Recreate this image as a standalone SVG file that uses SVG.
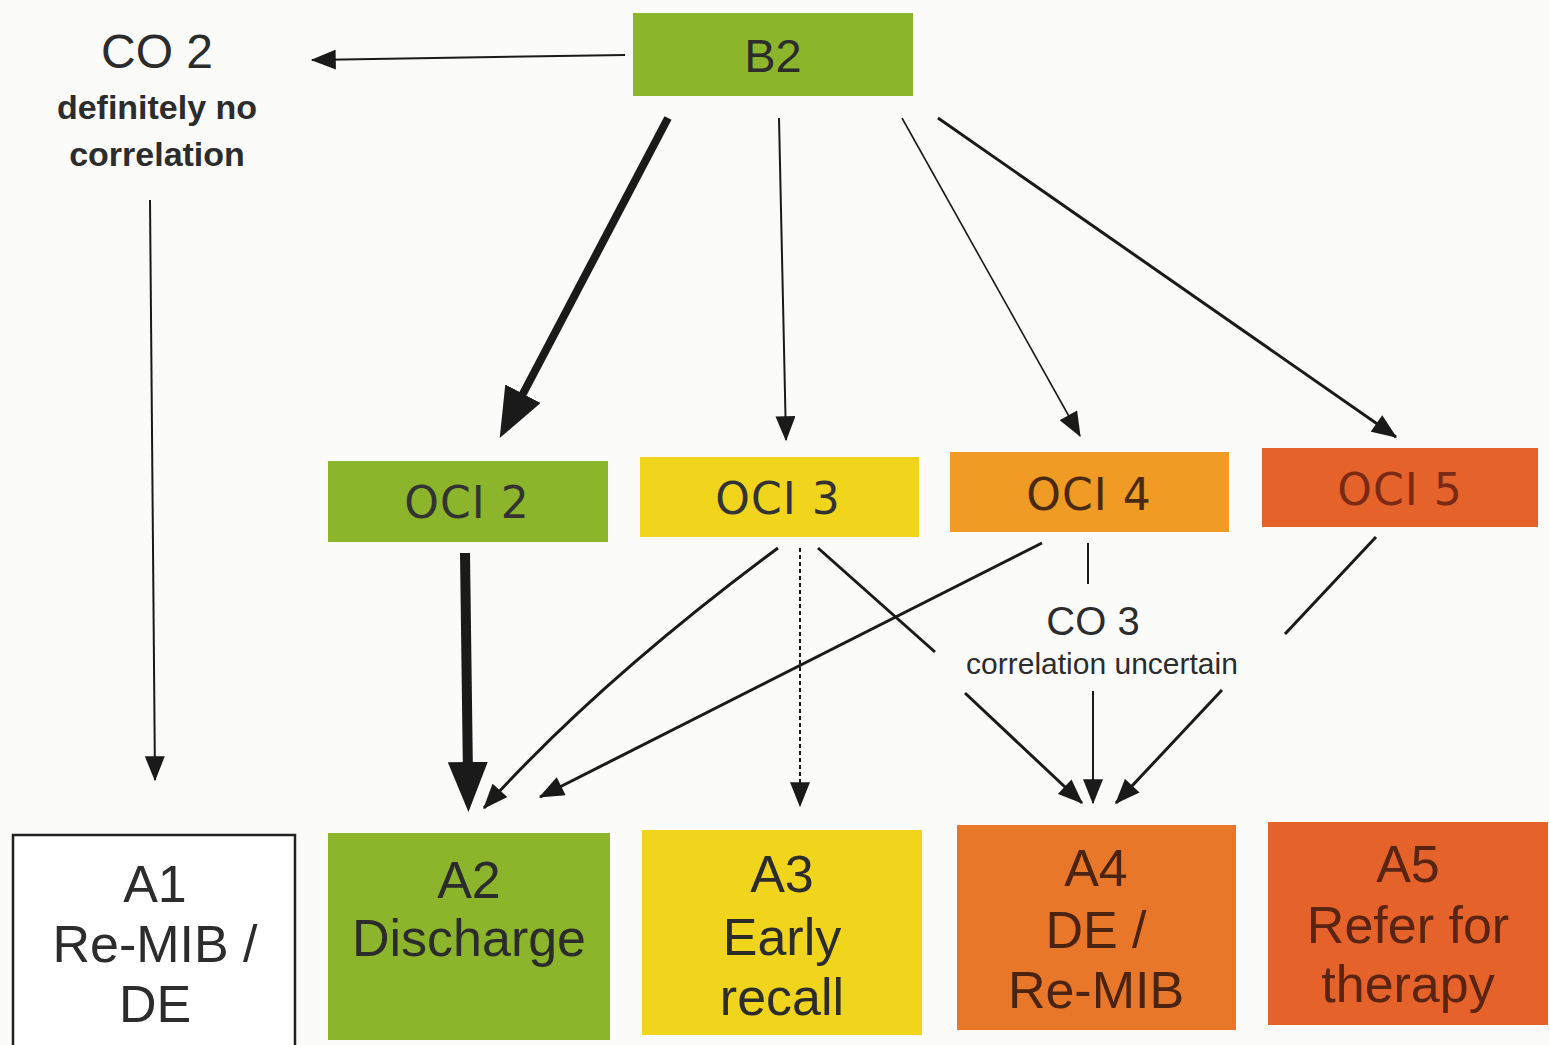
<svg xmlns="http://www.w3.org/2000/svg" width="1549" height="1045" viewBox="0 0 1549 1045">
  <defs>
    <style>
      .lbl { font-family: "Liberation Sans", Arial, sans-serif; fill: #2c2c2c; text-anchor: middle; }
      .oci { font-family: "DejaVu Sans", "Liberation Sans", sans-serif; font-size: 44px; letter-spacing: 1px; fill: #333; text-anchor: middle; }
      .act { font-size: 52px; }
      .box { stroke: none; }
      .green { fill: #8cb52b; }
      .yellow { fill: #f1d41c; }
      .orange { fill: #ef9b24; }
      .red { fill: #e6622b; }
      .red2 { fill: #e8772a; }
      .edge { fill: none; stroke: #1a1a1a; }
      .hair { stroke-width: 1.6; }
      .thin { stroke-width: 2; }
      .mid { stroke-width: 3; }
    </style>
    <!-- standard arrowhead, tip at path end -->
    <marker id="ah" viewBox="0 0 20 16" refX="19" refY="8" markerWidth="26" markerHeight="20" markerUnits="userSpaceOnUse" orient="auto">
      <path d="M0,0 L20,8 L0,16 z" fill="#1a1a1a"/>
    </marker>
    <!-- heavy arrowhead, tip sits 35px beyond path end -->
    <marker id="ahBig" viewBox="0 0 20 16" refX="6" refY="8" markerWidth="50" markerHeight="40" markerUnits="userSpaceOnUse" orient="auto">
      <path d="M0,0 L20,8 L0,16 z" fill="#1a1a1a"/>
    </marker>
  </defs>

  <rect width="1549" height="1045" fill="#fbfbfa"/>

  <!-- connectors -->
  <g id="connectors">
    <line class="edge thin" x1="625" y1="55" x2="312" y2="60" marker-end="url(#ah)"/>
    <line class="edge thin" x1="150" y1="200" x2="155" y2="780" marker-end="url(#ah)"/>
    <line class="edge" style="stroke-width:8" x1="668" y1="118" x2="516" y2="407" marker-end="url(#ahBig)"/>
    <line class="edge thin" x1="779" y1="118" x2="786" y2="440" marker-end="url(#ah)"/>
    <line class="edge hair" x1="902" y1="118" x2="1080" y2="436" marker-end="url(#ah)"/>
    <line class="edge mid" x1="938" y1="118" x2="1396" y2="437" marker-end="url(#ah)"/>

    <line class="edge" style="stroke-width:10" x1="465" y1="553" x2="468" y2="777" marker-end="url(#ahBig)"/>
    <path class="edge mid" d="M778,548 Q600,680 484,808" marker-end="url(#ah)"/>
    <line class="edge mid" x1="1042" y1="543" x2="540" y2="797" marker-end="url(#ah)"/>
    <line class="edge thin" x1="800" y1="548" x2="800" y2="806" stroke-dasharray="4,3" marker-end="url(#ah)"/>
    <line class="edge mid" x1="818" y1="548" x2="935" y2="652"/>
    <line class="edge thin" x1="1088" y1="543" x2="1088" y2="584"/>
    <line class="edge mid" x1="1376" y1="537" x2="1285" y2="634"/>
    <line class="edge mid" x1="965" y1="693" x2="1082" y2="803" marker-end="url(#ah)"/>
    <line class="edge thin" x1="1093" y1="691" x2="1093" y2="803" marker-end="url(#ah)"/>
    <line class="edge mid" x1="1222" y1="690" x2="1116" y2="803" marker-end="url(#ah)"/>
  </g>

  <!-- top node -->
  <g id="B2">
    <rect class="box green" x="633" y="13" width="280" height="83"/>
    <text class="lbl" x="773" y="72" font-size="47">B2</text>
  </g>

  <!-- cut-off labels -->
  <g id="CO2">
    <text class="lbl" x="157" y="68" font-size="48">CO 2</text>
    <text class="lbl" x="157" y="119" font-size="34" font-weight="bold">definitely no</text>
    <text class="lbl" x="157" y="166" font-size="34" font-weight="bold">correlation</text>
  </g>
  <g id="CO3">
    <text class="lbl" x="1093" y="635" font-size="40">CO 3</text>
    <text class="lbl" x="1102" y="674" font-size="30">correlation uncertain</text>
  </g>

  <!-- OCI row -->
  <g id="OCI2">
    <rect class="box green" x="328" y="461" width="280" height="81"/>
    <text class="oci" x="467" y="518">OCI 2</text>
  </g>
  <g id="OCI3">
    <rect class="box yellow" x="640" y="457" width="279" height="80"/>
    <text class="oci" x="778" y="514">OCI 3</text>
  </g>
  <g id="OCI4">
    <rect class="box orange" x="950" y="452" width="279" height="80"/>
    <text class="oci" x="1089" y="510" style="fill:#4a2a10">OCI 4</text>
  </g>
  <g id="OCI5">
    <rect class="box red" x="1262" y="448" width="276" height="79"/>
    <text class="oci" x="1400" y="505" style="fill:#7a2a14">OCI 5</text>
  </g>

  <!-- action row -->
  <g id="A1">
    <rect x="13" y="835" width="282" height="214" fill="#ffffff" stroke="#222" stroke-width="2.5"/>
    <text class="lbl act" x="155" y="902">A1</text>
    <text class="lbl act" x="155" y="962">Re-MIB /</text>
    <text class="lbl act" x="155" y="1022">DE</text>
  </g>
  <g id="A2">
    <rect class="box green" x="328" y="833" width="282" height="207"/>
    <text class="lbl act" x="469" y="898">A2</text>
    <text class="lbl act" x="469" y="956">Discharge</text>
  </g>
  <g id="A3">
    <rect class="box yellow" x="642" y="830" width="280" height="205"/>
    <text class="lbl act" x="782" y="892">A3</text>
    <text class="lbl act" x="782" y="955">Early</text>
    <text class="lbl act" x="782" y="1015">recall</text>
  </g>
  <g id="A4">
    <rect class="box red2" x="957" y="825" width="279" height="205"/>
    <text class="lbl act" x="1096" y="886" style="fill:#4a2410">A4</text>
    <text class="lbl act" x="1096" y="948" style="fill:#4a2410">DE /</text>
    <text class="lbl act" x="1096" y="1008" style="fill:#4a2410">Re-MIB</text>
  </g>
  <g id="A5">
    <rect class="box red" x="1268" y="822" width="280" height="203"/>
    <text class="lbl act" x="1408" y="882" style="fill:#5a2412">A5</text>
    <text class="lbl act" x="1408" y="943" style="fill:#5a2412">Refer for</text>
    <text class="lbl act" x="1408" y="1002" style="fill:#5a2412">therapy</text>
  </g>
</svg>
